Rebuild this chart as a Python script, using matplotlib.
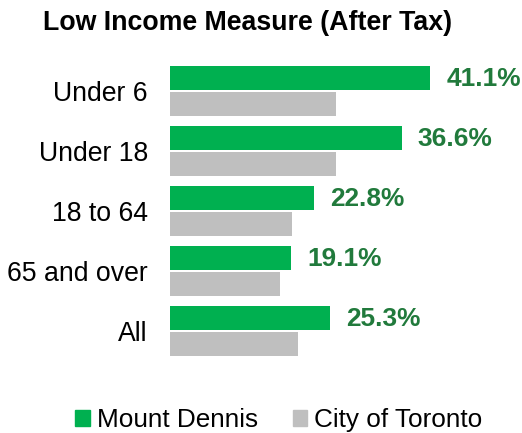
import matplotlib
matplotlib.use("Agg")
import matplotlib.pyplot as plt
from matplotlib.patches import Patch

plt.rcParams['font.family'] = ['Liberation Sans', 'DejaVu Sans']

groups = ["Under 6", "Under 18", "18 to 64", "65 and over", "All"]
mount_dennis = [41.1, 36.6, 22.8, 19.1, 25.3]
toronto = [26.2, 26.2, 19.2, 17.4, 20.2]

green = "#00B050"
grey = "#BFBFBF"
label_green = "#217A3C"

W, H = 522, 433
fig = plt.figure(figsize=(W / 100, H / 100), dpi=100)
ax = fig.add_axes([170 / W, 1 - 361 / H, 316.5 / W, 300 / H])

pos = list(range(len(groups)))
off = 13 / 60
ax.barh([p - off for p in pos], mount_dennis, height=0.4, color=green)
ax.barh([p + off for p in pos], toronto, height=0.4, color=grey)

for p, v in zip(pos, mount_dennis):
    ax.annotate(f"{v}%", (v, p - off), xytext=(16, -1), textcoords="offset pixels",
                ha="left", va="center", fontsize=18.9, fontweight="bold",
                color=label_green)

ax.set_xlim(0, 50)
ax.set_ylim(4.5, -0.5)
ax.set_yticks(pos)
ax.set_yticklabels(groups, fontsize=19.2)
ax.tick_params(axis="y", length=0, pad=16)
ax.set_xticks([])
for s in ax.spines.values():
    s.set_visible(False)

fig.text(43 / W, 1 - 23 / H, "Low Income Measure (After Tax)", ha="left",
         va="center", fontsize=19.3, fontweight="bold")

handles = [Patch(color=green, label="Mount Dennis"),
           Patch(color=grey, label="City of Toronto")]
fig.legend(handles=handles, loc="center", bbox_to_anchor=(279 / W, 1 - 420 / H),
           ncol=2, frameon=False, fontsize=18.8, handlelength=0.55,
           handleheight=0.55, handletextpad=0.27, columnspacing=1.35,
           borderpad=0, borderaxespad=0)

fig.savefig("out.png", dpi=100)
